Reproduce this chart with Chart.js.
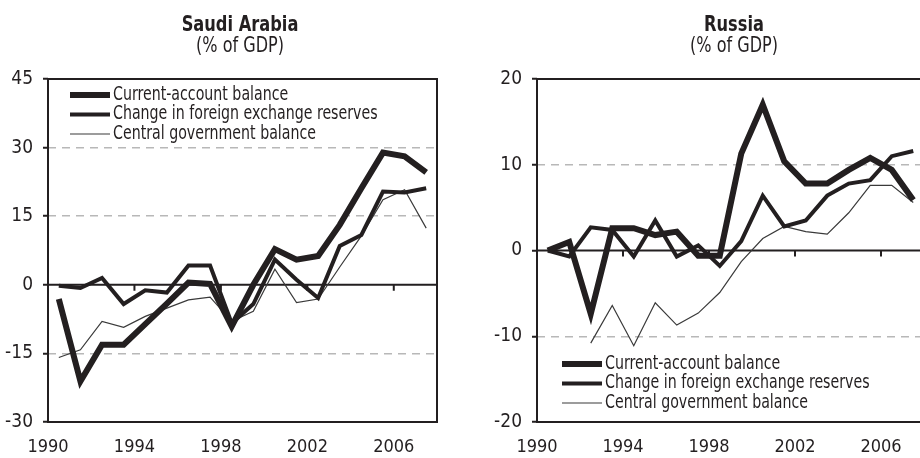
<!DOCTYPE html>
<html>
<head>
<meta charset="utf-8">
<script src="https://cdn.jsdelivr.net/npm/chart.js@4.4.1/dist/chart.umd.min.js"></script>
<style>
  html, body { margin: 0; padding: 0; background: #fff; overflow: hidden; width: 920px; height: 458px; }
  canvas { position: absolute; top: 0; }
  #saudiChart { left: 0; }
  #russiaChart { left: 460px; }
</style>
</head>
<body>
<canvas id="saudiChart" width="460" height="458"></canvas>
<canvas id="russiaChart" width="470" height="458"></canvas>
<script>
const FONT = "'DejaVu Sans Condensed', 'Liberation Sans Narrow', sans-serif";
const INK = '#231f20';

// annual observations, 1990-2007
const years = [1990, 1991, 1992, 1993, 1994, 1995, 1996, 1997, 1998, 1999,
               2000, 2001, 2002, 2003, 2004, 2005, 2006, 2007];
const xTickYears = [1990, 1994, 1998, 2002, 2006];
const seriesNames = ['Current-account balance', 'Change in foreign exchange reserves', 'Central government balance'];

// Saudi Arabia, % of GDP
const saudiCurrentAccount = [-3.1, -21.1, -13.1, -13.1, -8.6, -4.1, 0.5, 0.2, -9.1, 0.0,
                             7.8, 5.5, 6.3, 13.1, 21.1, 28.9, 28.1, 24.6];
const saudiReserves = [-0.2, -0.7, 1.5, -4.2, -1.2, -1.7, 4.2, 4.2, -8.4, -4.2,
                       5.5, 1.1, -2.9, 8.5, 10.9, 20.4, 20.2, 21.1];
const saudiGovBalance = [-15.9, -14.2, -8.0, -9.3, -6.9, -5.1, -3.3, -2.7, -8.0, -5.8,
                         3.4, -3.9, -3.1, 3.9, 10.7, 18.6, 20.8, 12.4];
const saudiYTicks = [-30, -15, 0, 15, 30, 45];

// Russia, % of GDP
const russiaCurrentAccount = [0, 1.0, -7.4, 2.6, 2.6, 1.8, 2.2, -0.6, -0.6, 11.3,
                              17.0, 10.4, 7.8, 7.8, 9.4, 10.8, 9.4, 5.9];
const russiaReserves = [0, -0.7, 2.7, 2.4, -0.7, 3.5, -0.7, 0.6, -1.8, 1.1,
                        6.4, 2.8, 3.5, 6.4, 7.8, 8.2, 11.0, 11.6];
const russiaGovBalance = [null, null, -10.8, -6.4, -11.1, -6.1, -8.7, -7.3, -4.9, -1.3,
                          1.4, 2.8, 2.2, 1.9, 4.4, 7.6, 7.6, 5.6];
const russiaYTicks = [-20, -10, 0, 10, 20];

const lineWidths = [6, 4, 1.2];
const lineColors = [INK, INK, '#3a3a3a'];

// each yearly value sits in the middle of its year on the axis
function toPoints(values) {
  return years.map((yr, i) => ({ x: yr + 0.5, y: values[i] }));
}

// text squeezed sideways, the original uses a condensed face
function narrowText(ctx, text, x, y, squeeze) {
  ctx.save();
  ctx.translate(x, y);
  ctx.scale(squeeze, 1);
  ctx.fillText(text, 0, 0);
  ctx.restore();
}

const panelDecor = {
  id: 'panelDecor',
  beforeDatasetsDraw(chart) {
    const { ctx, chartArea: a, scales: { x, y } } = chart;
    const y0 = y.getPixelForValue(0);
    ctx.save();
    ctx.strokeStyle = INK;
    ctx.lineWidth = 2;
    ctx.beginPath();
    ctx.moveTo(a.left, y0);
    ctx.lineTo(a.right, y0);
    xTickYears.forEach(yr => {
      const px = x.getPixelForValue(yr);
      if (px > a.left + 2) {
        ctx.moveTo(px, y0);
        ctx.lineTo(px, y0 + 6);
      }
    });
    ctx.stroke();
    ctx.restore();
  },
  afterDraw(chart, args, opts) {
    const { ctx, chartArea: a } = chart;
    ctx.save();
    ctx.strokeStyle = INK;
    ctx.lineWidth = 2;
    ctx.strokeRect(a.left, a.top, a.right - a.left, a.bottom - a.top);

    ctx.fillStyle = INK;
    ctx.textAlign = 'center';
    ctx.textBaseline = 'alphabetic';
    ctx.font = `bold 22px ${FONT}`;
    narrowText(ctx, opts.title, opts.titleX, 31, 0.82);
    ctx.font = `21px ${FONT}`;
    narrowText(ctx, '(% of GDP)', opts.titleX, 52, 0.85);

    // legend
    const lx = a.left + opts.legendX;
    const ly = (opts.legendFromBottom ? a.bottom : a.top) + opts.legendY;
    ctx.font = `19px ${FONT}`;
    ctx.textAlign = 'left';
    ctx.textBaseline = 'middle';
    chart.data.datasets.forEach((ds, i) => {
      const rowY = ly + i * 19.5;
      ctx.beginPath();
      ctx.lineWidth = ds.borderWidth;
      ctx.strokeStyle = ds.borderColor;
      ctx.moveTo(lx, rowY);
      ctx.lineTo(lx + 40, rowY);
      ctx.stroke();
      narrowText(ctx, ds.label, lx + 43, rowY, 0.83);
    });
    ctx.restore();
  }
};

function makePanel(id, seriesValues, yTicks, opts) {
  const yMin = yTicks[0];
  const yMax = yTicks[yTicks.length - 1];
  return new Chart(document.getElementById(id), {
    type: 'line',
    data: {
      datasets: seriesValues.map((values, i) => ({
        label: seriesNames[i],
        data: toPoints(values),
        borderColor: lineColors[i],
        borderWidth: lineWidths[i],
        borderJoinStyle: 'miter',
        pointRadius: 0,
        tension: 0,
        fill: false
      }))
    },
    options: {
      responsive: false,
      animation: false,
      layout: { padding: { top: 79, right: opts.rightPad, bottom: 0, left: 0 } },
      plugins: {
        legend: { display: false },
        tooltip: { enabled: false },
        panelDecor: opts
      },
      scales: {
        x: {
          type: 'linear',
          min: 1990,
          max: 2008,
          afterBuildTicks: s => { s.ticks = xTickYears.map(v => ({ value: v })); },
          afterFit: s => { s.height = 36; },
          grid: { display: false, drawTicks: false },
          border: { display: false },
          ticks: {
            color: INK,
            font: { family: FONT, size: 18 },
            padding: 15,
            maxRotation: 0,
            autoSkip: false,
            callback: v => String(v)
          }
        },
        y: {
          type: 'linear',
          min: yMin,
          max: yMax,
          afterBuildTicks: s => { s.ticks = yTicks.map(v => ({ value: v })); },
          afterFit: s => { s.width = opts.axisWidth; },
          grid: {
            color: c => (c.tick && c.tick.value !== 0 && c.tick.value !== yMin && c.tick.value !== yMax)
              ? '#b8b8b8' : 'rgba(0,0,0,0)',
            lineWidth: 1.5,
            tickColor: INK,
            tickLength: 5,
            tickWidth: 2
          },
          border: { display: false, dash: [8, 6] },
          ticks: {
            color: INK,
            font: { family: FONT, size: 19 },
            padding: 10,
            callback: v => String(v)
          }
        }
      }
    },
    plugins: [panelDecor]
  });
}

makePanel('saudiChart', [saudiCurrentAccount, saudiReserves, saudiGovBalance], saudiYTicks, {
  title: 'Saudi Arabia', titleX: 240, axisWidth: 48, rightPad: 23,
  legendX: 22, legendY: 16, legendFromBottom: false
});

makePanel('russiaChart', [russiaCurrentAccount, russiaReserves, russiaGovBalance], russiaYTicks, {
  title: 'Russia', titleX: 274, axisWidth: 77, rightPad: 6,
  legendX: 25, legendY: -58, legendFromBottom: true
});
</script>
</body>
</html>
